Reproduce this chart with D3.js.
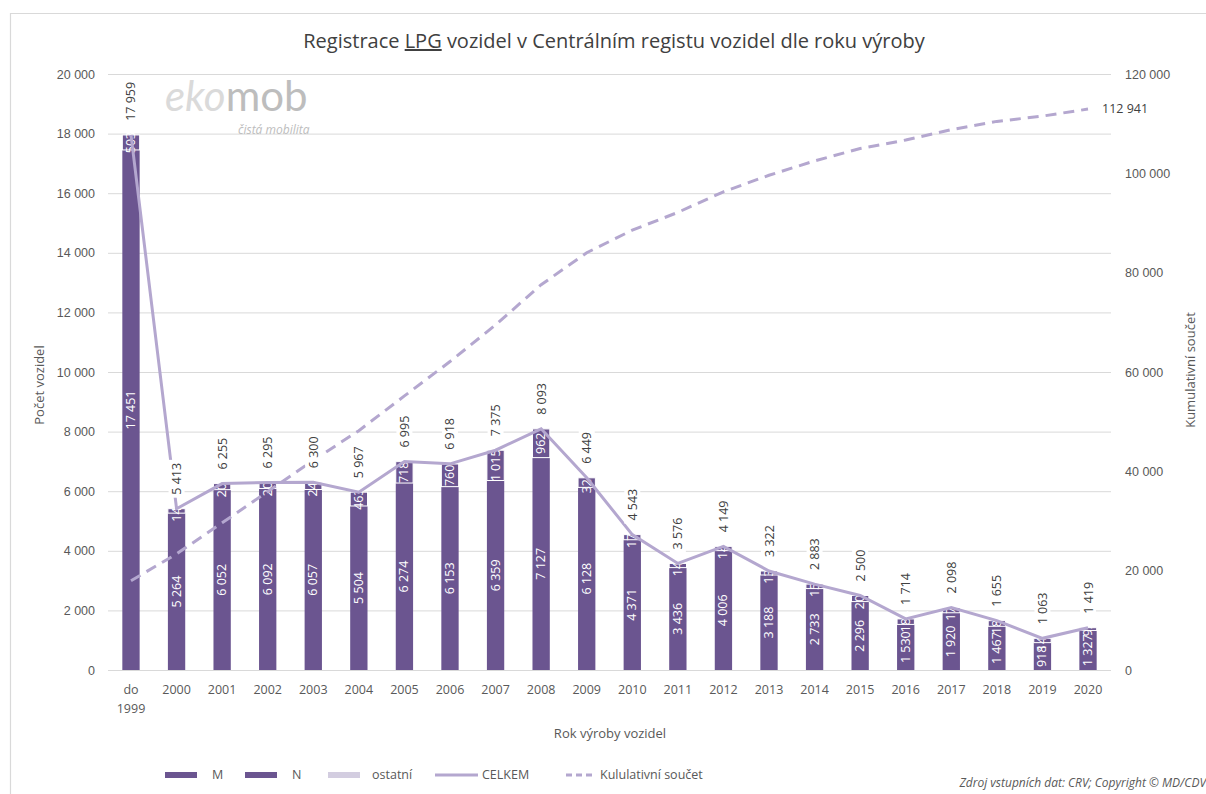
<!DOCTYPE html>
<html><head><meta charset="utf-8">
<script src="https://cdn.jsdelivr.net/npm/d3@7/dist/d3.min.js"></script>
<style>
body{margin:0;background:#fff;}
svg{font-family:"Open Sans","Liberation Sans",sans-serif;}
</style></head>
<body><svg id="c" width="1206" height="794"></svg>
<script>
const categories = ["do 1999","2000","2001","2002","2003","2004","2005","2006","2007","2008","2009","2010","2011","2012","2013","2014","2015","2016","2017","2018","2019","2020"];
const seriesM = [17451,5264,6052,6092,6057,5504,6274,6153,6359,7127,6128,4371,3436,4006,3188,2733,2296,1530,1920,1467,918,1327];
const seriesN = [503,149,203,203,243,463,718,760,1015,962,321,172,140,143,134,150,204,184,178,188,145,92];
const seriesOstatni = [5,0,0,0,0,0,3,5,1,4,0,0,0,0,0,0,0,0,0,0,0,0];
const seriesCelkem = [17959,5413,6255,6295,6300,5967,6995,6918,7375,8093,6449,4543,3576,4149,3322,2883,2500,1714,2098,1655,1063,1419];
const seriesKumul = [17959,23372,29627,35922,42222,48189,55184,62102,69477,77570,84019,88562,92138,96287,99609,102492,104992,106706,108804,110459,111522,112941];
const leftTicks = [0,2000,4000,6000,8000,10000,12000,14000,16000,18000,20000];
const rightTicks = [0,20000,40000,60000,80000,100000,120000];

const svg = d3.select("#c");
const barCol = "#6b5590", lineCol = "#b4a7cf", ostCol = "#d3cde0", gridCol = "#d9d9d9", txt = "#595959";
const fmt = v => d3.format(",")(v).replace(/,/g, " ");

// chart border
svg.append("path").attr("d","M10.5,800 L10.5,13.5 L1210,13.5").attr("fill","none").attr("stroke","#d9d9d9").attr("stroke-width",1.2);

const x = d3.scaleBand().domain(categories).range([108.2,1110.8]).paddingInner(0.62).paddingOuter(0.31);
const y = d3.scaleLinear().domain([0,20000]).range([670,74]);
const y2 = d3.scaleLinear().domain([0,120000]).range([670,74]);

// grid
svg.append("g").selectAll("line").data(leftTicks.filter(d=>d>0)).join("line")
  .attr("x1",108).attr("x2",1111).attr("y1",d=>y(d)+0.5).attr("y2",d=>y(d)+0.5)
  .attr("stroke",gridCol).attr("stroke-width",1);
svg.append("line").attr("x1",108).attr("x2",1111).attr("y1",670.5).attr("y2",670.5).attr("stroke",gridCol).attr("stroke-width",1.2);

// left axis
const la = svg.append("g").attr("transform","translate(99,0)")
  .call(d3.axisLeft(y).tickValues(leftTicks).tickSize(0).tickPadding(4).tickFormat(fmt));
la.select(".domain").remove();
la.selectAll("text").attr("fill",txt).attr("font-size",12.5);
// right axis
const ra = svg.append("g").attr("transform","translate(1121,0)")
  .call(d3.axisRight(y2).tickValues(rightTicks).tickSize(0).tickPadding(4).tickFormat(fmt));
ra.select(".domain").remove();
ra.selectAll("text").attr("fill",txt).attr("font-size",12.5);

// x labels
const xl = svg.append("g");
categories.forEach(c=>{
  const cx = x(c)+x.bandwidth()/2;
  const parts = c.split(" ");
  parts.forEach((p,i)=>{
    xl.append("text").attr("x",cx).attr("y",694+i*19).attr("text-anchor","middle")
      .attr("fill",txt).attr("font-size",12.5).text(p);
  });
});

// bars
const stacks = categories.map((c,i)=>({c, m:seriesM[i], n:seriesN[i], o:seriesOstatni[i]}));
const bw = x.bandwidth();
const gb = svg.append("g");
stacks.forEach(s=>{
  const x0 = x(s.c);
  gb.append("rect").attr("x",x0).attr("width",bw).attr("y",y(s.m)).attr("height",y(0)-y(s.m)).attr("fill",barCol);
  gb.append("rect").attr("x",x0).attr("width",bw).attr("y",y(s.m+s.n)).attr("height",y(s.m)-y(s.m+s.n))
    .attr("fill",barCol).attr("stroke","#fff").attr("stroke-width",1);
  if(s.o>0) gb.append("rect").attr("x",x0).attr("width",bw).attr("y",y(s.m+s.n+s.o)).attr("height",y(s.m+s.n)-y(s.m+s.n+s.o)).attr("fill",ostCol);
});

// inside labels
const gl = svg.append("g").attr("font-size",12.5).attr("fill","#fff");
stacks.forEach(s=>{
  const cx = x(s.c)+bw/2+4;
  const ym = (y(0)+y(s.m))/2;
  gl.append("text").attr("transform",`translate(${cx},${ym}) rotate(-90)`).attr("text-anchor","middle").text(fmt(s.m));
  const yn = (y(s.m)+y(s.m+s.n))/2;
  gl.append("text").attr("transform",`translate(${cx},${yn}) rotate(-90)`).attr("text-anchor","middle").text(fmt(s.n));
});

// cumulative dashed line
const line2 = d3.line().x((d,i)=>x(categories[i])+bw/2).y(d=>y2(d));
svg.append("path").datum(seriesKumul).attr("d",line2).attr("fill","none").attr("stroke",lineCol)
  .attr("stroke-width",3).attr("stroke-dasharray","11,7");
// celkem line
const line1 = d3.line().x((d,i)=>x(categories[i])+bw/2).y(d=>y(d));
svg.append("path").datum(seriesCelkem).attr("d",line1).attr("fill","none").attr("stroke",lineCol).attr("stroke-width",3);

// total labels
const gt = svg.append("g").attr("font-size",12.5).attr("fill","#404040");
seriesCelkem.forEach((v,i)=>{
  const cx = x(categories[i])+bw/2;
  const yy = y(v)-14;
  const g = gt.append("g").attr("transform",`translate(${cx},${yy}) rotate(-90)`);
  const t = g.append("text").attr("x",0).attr("y",4.5).attr("text-anchor","start").text(fmt(v));
  const w = t.node().getComputedTextLength();
  g.insert("rect","text").attr("x",-3).attr("y",-8).attr("width",w+6).attr("height",16).attr("fill","#fff");
});
// last cumulative label
svg.append("text").attr("x",x(categories[21])+bw/2+14).attr("y",y2(112941)+4).attr("font-size",12.5).attr("fill","#404040").text(fmt(112941));

// title
const title = svg.append("text").attr("x",614).attr("y",48).attr("text-anchor","middle").attr("font-size",20).attr("fill","#404040");
title.append("tspan").text("Registrace ");
title.append("tspan").attr("text-decoration","underline").text("LPG");
title.append("tspan").text(" vozidel v Centrálním registu vozidel dle roku výroby");

// axis titles
svg.append("text").attr("transform","translate(44,385) rotate(-90)").attr("text-anchor","middle").attr("font-size",13).attr("fill",txt).text("Počet vozidel");
svg.append("text").attr("transform","translate(1195,370) rotate(-90)").attr("text-anchor","middle").attr("font-size",13).attr("fill",txt).text("Kumulativní součet");
svg.append("text").attr("x",610).attr("y",738).attr("text-anchor","middle").attr("font-size",13).attr("fill",txt).text("Rok výroby vozidel");

// logo
const logo = svg.append("text").attr("x",165).attr("y",111).attr("font-size",42).attr("font-style","italic").attr("font-family","Lato, sans-serif");
logo.append("tspan").attr("fill","#dadada").text("eko");
logo.append("tspan").attr("fill","#bdbdbd").attr("font-style","normal").text("mob");
svg.append("text").attr("x",238).attr("y",134).attr("font-size",12).attr("font-style","italic").attr("fill","#bdbdbd").text("čistá mobilita");

// legend
const lg = svg.append("g").attr("font-size",12.5).attr("fill",txt);
const ly = 775;
lg.append("rect").attr("x",165).attr("y",ly-3).attr("width",32).attr("height",6).attr("fill",barCol);
lg.append("text").attr("x",212).attr("y",ly+4).text("M");
lg.append("rect").attr("x",245).attr("y",ly-3).attr("width",32).attr("height",6).attr("fill",barCol);
lg.append("text").attr("x",292).attr("y",ly+4).text("N");
lg.append("rect").attr("x",328).attr("y",ly-3).attr("width",32).attr("height",6).attr("fill",ostCol);
lg.append("text").attr("x",372).attr("y",ly+4).text("ostatní");
lg.append("line").attr("x1",435).attr("x2",478).attr("y1",ly).attr("y2",ly).attr("stroke",lineCol).attr("stroke-width",3);
lg.append("text").attr("x",482).attr("y",ly+4).text("CELKEM");
lg.append("line").attr("x1",566).attr("x2",596).attr("y1",ly).attr("y2",ly).attr("stroke",lineCol).attr("stroke-width",3).attr("stroke-dasharray","6,4");
lg.append("text").attr("x",600).attr("y",ly+4).text("Kululativní součet");
svg.append("text").attr("x",1206).attr("y",787).attr("text-anchor","end").attr("font-size",12).attr("font-style","italic").attr("fill",txt).text("Zdroj vstupních dat: CRV; Copyright © MD/CDV");
</script></body></html>
